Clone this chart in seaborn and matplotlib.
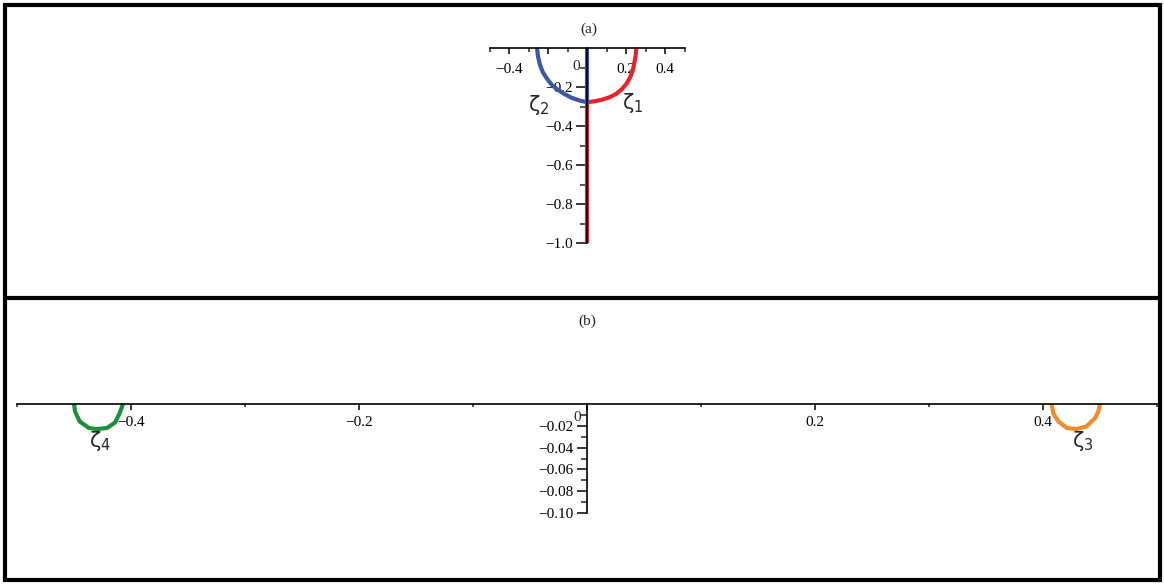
import matplotlib
matplotlib.use("Agg")
import matplotlib.pyplot as plt
import seaborn as sns
import pandas as pd
from matplotlib.patches import Rectangle
from matplotlib.lines import Line2D
from matplotlib.ticker import FixedLocator, FixedFormatter

# ---------------- data ----------------
# panel (a)
zeta1_x = [0.253, 0.250, 0.244, 0.236, 0.224, 0.205, 0.180, 0.150, 0.115, 0.078, 0.040, 0.0, 0.0]
zeta1_y = [0.0, -0.035, -0.07, -0.11, -0.145, -0.18, -0.21, -0.235, -0.253, -0.265, -0.273, -0.278, -1.0]
zeta2_x = [0.0, 0.0, -0.036, -0.08, -0.123, -0.155, -0.18, -0.207, -0.226, -0.241, -0.252, -0.256]
zeta2_y = [0.0, -0.278, -0.27, -0.255, -0.232, -0.21, -0.19, -0.155, -0.125, -0.087, -0.04, 0.0]
# panel (b)
zeta4_x = [-0.450, -0.449, -0.445, -0.437, -0.430, -0.421, -0.414, -0.410, -0.407]
zeta4_y = [0.0, -0.007, -0.016, -0.022, -0.023, -0.022, -0.017, -0.0085, 0.0]
zeta3_x = [0.4076, 0.409, 0.4135, 0.421, 0.4295, 0.438, 0.4456, 0.4485, 0.450]
zeta3_y = [0.0, -0.0085, -0.016, -0.022, -0.023, -0.0206, -0.013, -0.007, 0.0]

xticks_a = [-0.4, -0.2, 0.0, 0.2, 0.4]
xticklabels_a = ["\u22120.4", "", "", "0.2", "0.4"]
yticks_a = [-1.0, -0.8, -0.6, -0.4, -0.2]
yticklabels_a = ["\u22121.0", "\u22120.8", "\u22120.6", "\u22120.4", "\u22120.2"]
xticks_b = [-0.4, -0.2, 0.0, 0.2, 0.4]
xticklabels_b = ["\u22120.4", "\u22120.2", "", "0.2", "0.4"]
yticks_b = [-0.10, -0.08, -0.06, -0.04, -0.02]
yticklabels_b = ["\u22120.10", "\u22120.08", "\u22120.06", "\u22120.04", "\u22120.02"]
xminor = [-0.5, -0.3, -0.1, 0.1, 0.3, 0.5]
yminor_a = [-0.9, -0.7, -0.5, -0.3, -0.1]
yminor_b = [-0.09, -0.07, -0.05, -0.03, -0.01]

sns.set_theme(style="white")
plt.rcParams["font.family"] = ["Liberation Serif", "DejaVu Serif"]
plt.rcParams["mathtext.fontset"] = "dejavusans"

W, H = 1164, 585
fig = plt.figure(figsize=(W / 100, H / 100), dpi=100)


def px_axes(x0, y0, x1, y1):
    return fig.add_axes([x0 / W, 1 - y1 / H, (x1 - x0) / W, (y1 - y0) / H])


RED, BLUE, GREEN, ORANGE = "#eb2328", "#3d57a8", "#1f8e3d", "#f7892b"
LW = 3.0
FS = 11


def curve(ax, xs, ys, color):
    df = pd.DataFrame({"x": xs, "y": ys})
    sns.lineplot(data=df, x="x", y="y", sort=False, estimator=None, ax=ax,
                 color=color, lw=LW, clip_on=False, solid_capstyle="butt",
                 solid_joinstyle="round")


def style_axes(ax, xlim, ylim, xt, xtl, yt, ytl, ymin, xlen, ylen, xpad, ypad):
    ax.set_xlim(*xlim)
    ax.set_ylim(*ylim)
    ax.patch.set_visible(False)
    for s in ("top", "right"):
        ax.spines[s].set_visible(False)
    for s in ("left", "bottom"):
        ax.spines[s].set_position(("data", 0))
        ax.spines[s].set_color("black")
        ax.spines[s].set_linewidth(1.2)
        ax.spines[s].set_zorder(3)
    ax.xaxis.set_major_locator(FixedLocator(xt))
    ax.xaxis.set_major_formatter(FixedFormatter(xtl))
    ax.xaxis.set_minor_locator(FixedLocator(xminor))
    ax.yaxis.set_major_locator(FixedLocator(yt))
    ax.yaxis.set_major_formatter(FixedFormatter(ytl))
    ax.yaxis.set_minor_locator(FixedLocator(ymin))
    ax.tick_params(axis="x", which="major", direction="out", length=xlen[0], width=1.1,
                   pad=xpad, labelsize=FS, colors="black", bottom=True)
    ax.tick_params(axis="x", which="minor", direction="out", length=xlen[1], width=1.1,
                   bottom=True)
    ax.tick_params(axis="y", which="major", direction="out", length=ylen[0], width=1.1,
                   pad=ypad, labelsize=FS, colors="black", left=True)
    ax.tick_params(axis="y", which="minor", direction="out", length=ylen[1], width=1.1,
                   left=True)
    ax.set_xlabel("")
    ax.set_ylabel("")


# ---------------- panel (a) ----------------
ax_a = px_axes(489.5, 48, 684.5, 243)
curve(ax_a, zeta1_x, zeta1_y, RED)
curve(ax_a, zeta2_x, zeta2_y, BLUE)
style_axes(ax_a, (-0.5, 0.5), (-1.0, 0.0), xticks_a, xticklabels_a, yticks_a,
           yticklabels_a, yminor_a, (4.5, 3.0), (8.0, 5.0), 6.5, 2.5)
ax_a.text(-0.053, -0.096, "0", ha="center", va="center", fontsize=FS)
ax_a.text(-0.25, -0.29, r"$\mathrm{\zeta_2}$", ha="center", va="center", fontsize=15)
ax_a.text(0.236, -0.28, r"$\mathrm{\zeta_1}$", ha="center", va="center", fontsize=15)

# ---------------- panel (b) ----------------
ax_b = px_axes(17, 404, 1157, 513)
curve(ax_b, zeta4_x, zeta4_y, GREEN)
curve(ax_b, zeta3_x, zeta3_y, ORANGE)
style_axes(ax_b, (-0.5, 0.5), (-0.10, 0.0), xticks_b, xticklabels_b, yticks_b,
           yticklabels_b, yminor_b, (4.5, 2.5), (7.0, 4.0), 4.0, 3.0)
ax_b.text(-0.0088, -0.0128, "0", ha="center", va="center", fontsize=FS)
ax_b.text(-0.427, -0.034, r"$\mathrm{\zeta_4}$", ha="center", va="center", fontsize=15)
ax_b.text(0.435, -0.034, r"$\mathrm{\zeta_3}$", ha="center", va="center", fontsize=15)

# titles
fig.text(589 / W, 1 - 29 / H, "(a)", ha="center", va="center", fontsize=FS)
fig.text(587 / W, 1 - 321 / H, "(b)", ha="center", va="center", fontsize=FS)

# frames
fig.add_artist(Rectangle((5.3 / W, 1 - 579.7 / H), (1159.7 - 5.3) / W, (579.7 - 5.3) / H,
                         transform=fig.transFigure, fill=False, edgecolor="black",
                         linewidth=3.0))
fig.add_artist(Line2D([5.3 / W, 1159.7 / W], [1 - 297.5 / H, 1 - 297.5 / H],
                      transform=fig.transFigure, color="black", linewidth=3.0))

fig.savefig("out.png", dpi=100)
